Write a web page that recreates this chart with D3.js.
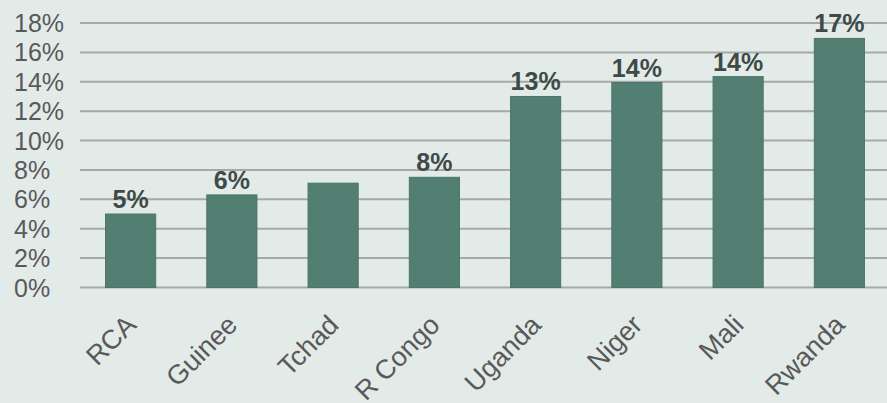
<!DOCTYPE html>
<html>
<head>
<meta charset="utf-8">
<script src="https://cdn.jsdelivr.net/npm/d3@7"></script>
<style>
  body { margin: 0; background: #e3ebe9; }
  svg { display: block; font-family: "Liberation Sans", Arial, sans-serif; }
</style>
</head>
<body>
<div id="container"></div>
<script>
/* DATA */
const countries = ["RCA", "Guinee", "Tchad", "R Congo", "Uganda", "Niger", "Mali", "Rwanda"];
const shares = [5.0, 6.3, 7.1, 7.5, 13.0, 13.95, 14.35, 16.95];
const valueLabels = ["5%", "6%", "", "8%", "13%", "14%", "14%", "17%"];
const yTicks = [0, 2, 4, 6, 8, 10, 12, 14, 16, 18];

/* CONSTANTS */
const width = 887, height = 403,
  margin = { top: 23, bottom: 115.5, left: 80, right: -3 };

const data = countries.map((c, i) => ({ country: c, share: shares[i], label: valueLabels[i] }));

// SCALES
const xScale = d3.scaleBand()
  .domain(countries)
  .range([margin.left, width - margin.right])
  .paddingInner(0.505)
  .paddingOuter(0.2525);

const yScale = d3.scaleLinear()
  .domain([0, 18])
  .range([height - margin.bottom, margin.top]);

// SVG
const svg = d3.select("#container")
  .append("svg")
  .attr("width", width)
  .attr("height", height);

svg.append("rect")
  .attr("width", width)
  .attr("height", height)
  .attr("fill", "#e3ebe9");

// GRID LINES
svg.append("g")
  .selectAll("line")
  .data(yTicks)
  .join("line")
  .attr("x1", margin.left)
  .attr("x2", width)
  .attr("y1", d => yScale(d))
  .attr("y2", d => yScale(d))
  .attr("stroke", "#a6a9a8")
  .attr("stroke-width", 2);

// Y AXIS LABELS (left aligned, as in the original)
svg.append("g")
  .selectAll("text")
  .data(yTicks)
  .join("text")
  .attr("x", 14)
  .attr("y", d => yScale(d))
  .attr("dy", "0.36em")
  .attr("fill", "#595959")
  .attr("font-size", 25)
  .text(d => d + "%");

// BARS
svg.append("g")
  .selectAll("rect")
  .data(data)
  .join("rect")
  .attr("x", d => xScale(d.country))
  .attr("y", d => yScale(d.share))
  .attr("width", xScale.bandwidth())
  .attr("height", d => yScale(0) - yScale(d.share))
  .attr("fill", "#527f72")
  .attr("stroke", "#4a7568")
  .attr("stroke-width", 1);

// VALUE LABELS
svg.append("g")
  .selectAll("text")
  .data(data)
  .join("text")
  .attr("x", d => xScale(d.country) + xScale.bandwidth() / 2)
  .attr("y", d => yScale(d.share) - 6)
  .attr("text-anchor", "middle")
  .attr("font-weight", "bold")
  .attr("font-size", 25)
  .attr("fill", "#3e4a47")
  .text(d => d.label);

// X AXIS LABELS
svg.append("g")
  .selectAll("text")
  .data(data)
  .join("text")
  .attr("transform", d => `translate(${xScale(d.country) + xScale.bandwidth() / 2 + 7},${yScale(0) + 39}) rotate(-45)`)
  .attr("text-anchor", "end")
  .attr("fill", "#595959")
  .attr("font-size", 27)
  .text(d => d.country);
</script>
</body>
</html>
